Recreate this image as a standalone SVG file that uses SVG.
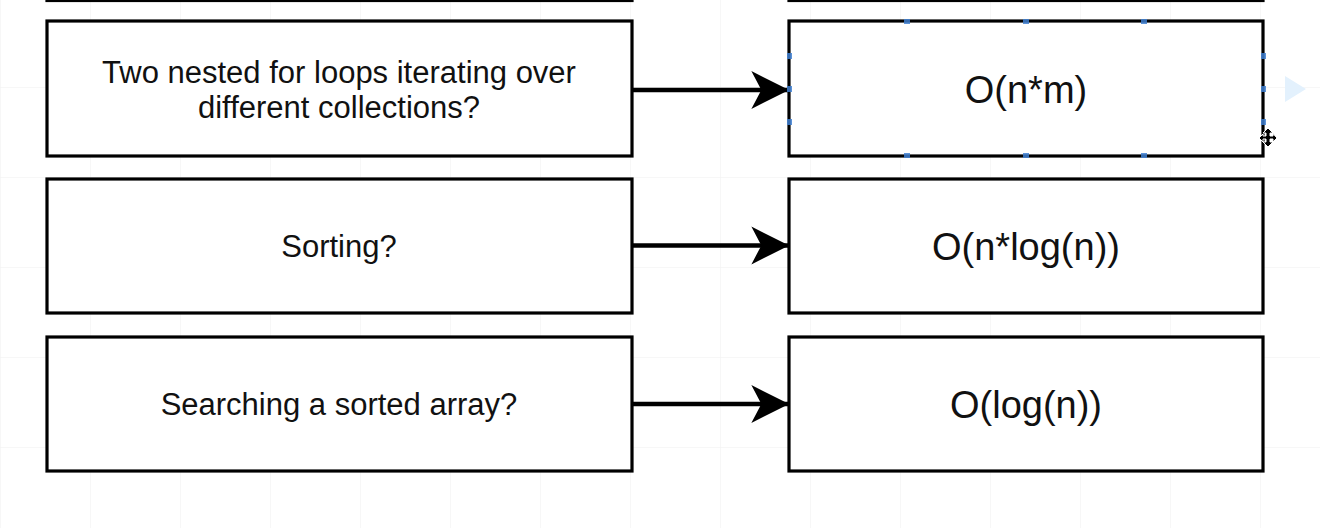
<svg xmlns="http://www.w3.org/2000/svg" width="1320" height="528" viewBox="0 0 1320 528">
  <style>
    .box { fill: #ffffff; stroke: #000000; stroke-width: 3.2; }
    .lt { font-family: "Liberation Sans", Arial, sans-serif; font-size: 31px; fill: #111111; text-anchor: middle; }
    .rt { font-family: "Liberation Sans", Arial, sans-serif; font-size: 38px; fill: #111111; text-anchor: middle; }
    .edge { stroke: #000000; stroke-width: 4.5; fill: none; }
    .grid { stroke: #f0f0f0; stroke-width: 1; }
    .handle { fill: #3f7fd0; opacity: 0.85; }
  </style>
  <defs>
    <marker id="arrow" markerUnits="userSpaceOnUse" markerWidth="40" markerHeight="40" viewBox="0 0 34 36" refX="33" refY="18" orient="auto">
      <path d="M0,1 L34,18 L0,35 L9,18 Z" fill="#000000"/>
    </marker>
    <pattern id="gridp" x="0" y="-3" width="90" height="90" patternUnits="userSpaceOnUse">
      <path d="M0,0 V90 M0,0 H90" class="grid"/>
    </pattern>
  </defs>

  <rect x="0" y="0" width="1320" height="528" fill="#ffffff"/>
  <rect x="0" y="0" width="1320" height="528" fill="url(#gridp)"/>

  <!-- partially visible boxes at the top -->
  <g id="top-left-partial"><rect class="box" x="47" y="-134" width="585" height="134.5"/></g>
  <g id="top-right-partial"><rect class="box" x="789" y="-134" width="474" height="134.5"/></g>

  <!-- row 1 -->
  <g id="q-nested">
    <rect class="box" x="47" y="21" width="585" height="135"/>
    <text class="lt" x="339" y="83">Two nested for loops iterating over</text>
    <text class="lt" x="339" y="118">different collections?</text>
  </g>
  <g id="a-nm">
    <rect class="box" x="789" y="21" width="474" height="135"/>
    <text class="rt" x="1026" y="103">O(n*m)</text>
  </g>

  <!-- row 2 -->
  <g id="q-sorting">
    <rect class="box" x="47" y="179" width="585" height="134"/>
    <text class="lt" x="339" y="257">Sorting?</text>
  </g>
  <g id="a-nlogn">
    <rect class="box" x="789" y="179" width="474" height="134"/>
    <text class="rt" x="1026" y="260">O(n*log(n))</text>
  </g>

  <!-- row 3 -->
  <g id="q-search">
    <rect class="box" x="47" y="337" width="585" height="134"/>
    <text class="lt" x="339" y="415">Searching a sorted array?</text>
  </g>
  <g id="a-logn">
    <rect class="box" x="789" y="337" width="474" height="134"/>
    <text class="rt" x="1026" y="418">O(log(n))</text>
  </g>

  <!-- connectors -->
  <g id="connectors">
    <line class="edge" x1="633" y1="90" x2="788" y2="90" marker-end="url(#arrow)"/>
    <line class="edge" x1="633" y1="245.5" x2="788" y2="245.5" marker-end="url(#arrow)"/>
    <line class="edge" x1="633" y1="404" x2="788" y2="404" marker-end="url(#arrow)"/>
  </g>

  <!-- selection handles on the O(n*m) box -->
  <g id="selection">
    <rect class="handle" x="904" y="19" width="6" height="5"/>
    <rect class="handle" x="1023" y="19" width="6" height="5"/>
    <rect class="handle" x="1141" y="19" width="6" height="5"/>
    <rect class="handle" x="904" y="153" width="6" height="5"/>
    <rect class="handle" x="1023" y="153" width="6" height="5"/>
    <rect class="handle" x="1141" y="153" width="6" height="5"/>
    <rect class="handle" x="787" y="53" width="5" height="6"/>
    <rect class="handle" x="787" y="86" width="5" height="6"/>
    <rect class="handle" x="787" y="119" width="5" height="6"/>
    <rect class="handle" x="1261" y="53" width="5" height="6"/>
    <rect class="handle" x="1261" y="86" width="5" height="6"/>
    <rect class="handle" x="1261" y="119" width="5" height="6"/>
    <path d="M1285,76 L1306,89 L1285,102 Z" fill="#e3f1fd"/>
    <path d="M1268,128 L1273,133 L1270,133 L1270,136 L1273,136 L1273,133.5 L1277,138 L1273,142 L1273,139 L1270,139 L1270,142 L1273,142 L1268,147 L1263,142 L1266,142 L1266,139 L1263,139 L1263,142 L1259,138 L1263,134 L1263,136 L1266,136 L1266,133 L1263,133 Z" fill="#000000" stroke="#ffffff" stroke-width="1"/>
  </g>
</svg>
